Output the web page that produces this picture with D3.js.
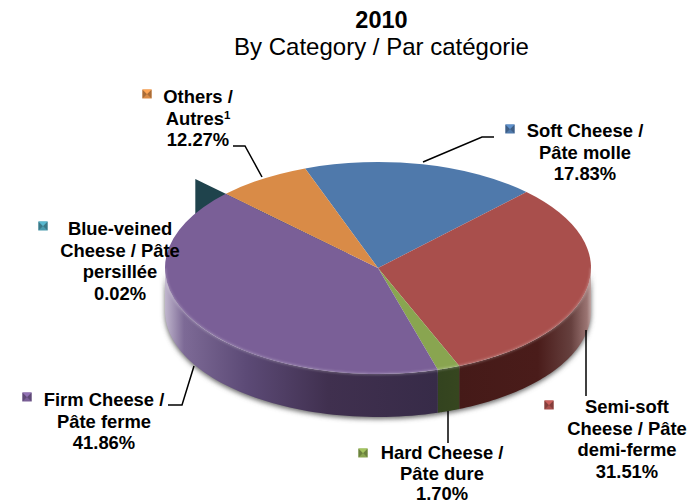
<!DOCTYPE html>
<html>
<head>
<meta charset="utf-8">
<script src="https://cdn.jsdelivr.net/npm/d3@7"></script>
<style>
  body { margin: 0; background: #fff; }
  text { font-family: "Liberation Sans", Arial, sans-serif; fill: #000; }
</style>
</head>
<body>
<div id="chart"></div>
<script>
// Slices, clockwise from the Soft Cheese edge
const categories = ["Soft", "Semi-soft", "Hard", "Firm", "Blue-veined", "Others"];
// Printed on the labels (they add up to more than 100)
const printedShares = ["17.83%", "31.51%", "1.70%", "41.86%", "0.02%", "12.27%"];
// Size of each slice as drawn; Others is drawn a lot smaller than its printed value
const drawnShares = [17.83, 31.51, 1.70, 41.86, 0.02, 7.1];
const topColors = ["#4f79ab", "#a94f4c", "#89a550", "#7a5f97", "#1f434c", "#d98b47"];
const keyColors = ["#4f79ab", "#a94f4c", "#89a550", "#7a5f97", "#4a9bae", "#d98b47"];
const labelLines = [
    ["Soft Cheese /", "Pâte molle"],
    ["Semi-soft", "Cheese / Pâte", "demi-ferme"],
    ["Hard Cheese /", "Pâte dure"],
    ["Firm Cheese /", "Pâte ferme"],
    ["Blue-veined", "Cheese / Pâte", "persillée"],
    ["Others /", "Autres"]
];

// Layout, same order as categories. The Hard label is a bit tighter so it stays on the page
const labelLayout = [
    { x: 585, y: 137, gap: 21.5, mx: 510, my: 129 },
    { x: 627, y: 413, gap: 21.5, mx: 549, my: 405 },
    { x: 442, y: 459, gap: 20.5, mx: 363, my: 453 },
    { x: 104, y: 406, gap: 21.5, mx: 27, my: 397 },
    { x: 120, y: 235, gap: 21.5, mx: 43, my: 226 },
    { x: 198, y: 103, gap: 21.5, mx: 147, my: 94 }
];
const leaders = [
    [[423, 162], [482, 137], [494, 137]],
    [[586, 330], [586, 396]],
    [[448, 411], [448, 443]],
    [[194, 366], [182, 405], [168, 405]],
    [[233, 146], [245, 146], [262, 177]]
];

const width = 700, height = 504;
const cx = 378, cy = 268, rx = 213, ry = 106, depth = 43;

const svg = d3.select("#chart").append("svg")
    .attr("width", width)
    .attr("height", height)
    .style("display", "block");
const defs = svg.append("defs");

// Soft shadow round the rim
defs.append("filter").attr("id", "blur")
    .attr("x", "-10%").attr("y", "-10%").attr("width", "120%").attr("height", "120%")
    .append("feGaussianBlur").attr("stdDeviation", 2.5);
defs.append("filter").attr("id", "rimBlur")
    .append("feGaussianBlur").attr("stdDeviation", 1.2);

// Side wall gradients, one per visible slice
function sideGradient(id, x1, x2, stops) {
    const g = defs.append("linearGradient").attr("id", id)
        .attr("gradientUnits", "userSpaceOnUse")
        .attr("x1", x1).attr("x2", x2).attr("y1", 0).attr("y2", 0);
    stops.forEach(s => g.append("stop").attr("offset", s[0]).attr("stop-color", s[1]));
}
sideGradient("side-Firm", cx - rx, 437, [[0, "#c0b6cd"], [0.07, "#7d6a96"], [0.3, "#5c4a76"], [0.6, "#40304f"], [1, "#372b48"]]);
sideGradient("side-Hard", 437, 458, [[0, "#33431f"], [1, "#36461f"]]);
sideGradient("side-Semi-soft", 458, cx + rx, [[0, "#451a18"], [0.6, "#4a1c1a"], [0.85, "#66403e"], [0.97, "#9b7573"], [1, "#c0a6a4"]]);

const pie = d3.pie().sort(null).value(d => d)
    .startAngle(-20 * Math.PI / 180)
    .endAngle(340 * Math.PI / 180);
const slices = pie(drawnShares);

const xProj = d3.scaleLinear().domain([-1, 1]).range([cx - rx, cx + rx]);
const yProj = d3.scaleLinear().domain([-1, 1]).range([cy - ry, cy + ry]);
const rimX = a => xProj(Math.sin(a));
const rimY = a => yProj(-Math.cos(a));

// Side wall between two angles, sampled along the rim
function wallPath(a0, a1) {
    const n = 60;
    const angles = d3.range(n + 1).map(i => a0 + (a1 - a0) * i / n);
    const pts = angles.map(a => [rimX(a), rimY(a)])
        .concat(angles.slice().reverse().map(a => [rimX(a), rimY(a) + depth]));
    return d3.line()(pts) + "Z";
}

const frontStart = Math.PI / 2, frontEnd = 3 * Math.PI / 2;

// Shadow under the whole pie
svg.append("path")
    .attr("d", wallPath(frontStart, frontEnd))
    .attr("fill", "#666")
    .attr("filter", "url(#blur)")
    .attr("transform", "translate(0,2)");

// The blue-veined sliver is pulled out: only its cut wall shows, behind the pie
const blueSlice = slices[4];
const explodeBy = 0.2;
const bx = xProj(Math.sin(blueSlice.startAngle) * (1 + explodeBy));
const by = yProj(-Math.cos(blueSlice.startAngle) * (1 + explodeBy));
const tipX = xProj(Math.sin(blueSlice.startAngle) * explodeBy);
const tipY = yProj(-Math.cos(blueSlice.startAngle) * explodeBy);
svg.append("path")
    .attr("d", d3.line()([[bx, by], [tipX, tipY], [tipX, tipY + depth], [bx, by + depth]]) + "Z")
    .attr("fill", topColors[4]);

// Front walls
const walls = svg.append("g");
slices.forEach((s, i) => {
    const a0 = Math.max(s.startAngle, frontStart);
    const a1 = Math.min(s.endAngle, frontEnd);
    if (a1 <= a0) return;
    walls.append("path")
        .attr("d", wallPath(a0, a1))
        .attr("fill", "url(#side-" + categories[i] + ")");
});

// Top face
const arc = d3.arc().innerRadius(0).outerRadius(rx);
const topFace = svg.append("g")
    .attr("transform", "translate(" + cx + "," + cy + ") scale(1," + (ry / rx) + ")");
topFace.selectAll("path")
    .data(slices)
    .enter()
    .append("path")
    .attr("d", arc)
    .attr("fill", (d, i) => topColors[i]);

// Light bevel on the front rim
const rimAngles = d3.range(61).map(i => frontStart + (frontEnd - frontStart) * i / 60);
svg.append("path")
    .attr("d", d3.line()(rimAngles.map(a => [rimX(a), rimY(a)])))
    .attr("fill", "none")
    .attr("stroke", "#fff")
    .attr("stroke-opacity", 0.25)
    .attr("stroke-width", 2)
    .attr("filter", "url(#rimBlur)");

// Leader lines
const leaderLine = d3.line();
svg.selectAll(".leader")
    .data(leaders)
    .enter()
    .append("path")
    .attr("class", "leader")
    .attr("d", d => leaderLine(d))
    .attr("fill", "none")
    .attr("stroke", "#000")
    .attr("stroke-width", 1.5);

// Labels
categories.forEach((c, i) => {
    const pos = labelLayout[i];
    const text = svg.append("text")
        .attr("text-anchor", "middle")
        .attr("font-size", 18.4)
        .attr("font-weight", "bold");
    const lines = labelLines[i].concat([printedShares[i]]);
    lines.forEach((line, j) => {
        text.append("tspan")
            .attr("x", pos.x)
            .attr("y", pos.y + j * pos.gap)
            .text(line);
        if (line === "Autres") {
            text.append("tspan")
                .attr("dy", -6)
                .attr("font-size", 11.5)
                .text("1");
        }
    });

    // Legend key: lighter notch on top, darker sides
    const base = d3.color(keyColors[i]);
    const m = svg.append("g").attr("transform", "translate(" + pos.mx + "," + pos.my + ")");
    m.append("rect")
        .attr("x", -4.5).attr("y", -4.5).attr("width", 9).attr("height", 9)
        .attr("fill", base);
    m.append("path")
        .attr("d", "M-4.5,-4.5L0,0L-4.5,4.5ZM4.5,-4.5L0,0L4.5,4.5Z")
        .attr("fill", base.darker(0.7));
    m.append("path")
        .attr("d", "M-4.5,-4.5L4.5,-4.5L0,0Z")
        .attr("fill", base.brighter(0.5));
});

// Title
svg.append("text")
    .attr("x", 381.5).attr("y", 28)
    .attr("text-anchor", "middle")
    .attr("font-size", 23.5)
    .attr("font-weight", "bold")
    .text("2010");
svg.append("text")
    .attr("x", 381.5).attr("y", 55)
    .attr("text-anchor", "middle")
    .attr("font-size", 24)
    .text("By Category / Par catégorie");
</script>
</body>
</html>
